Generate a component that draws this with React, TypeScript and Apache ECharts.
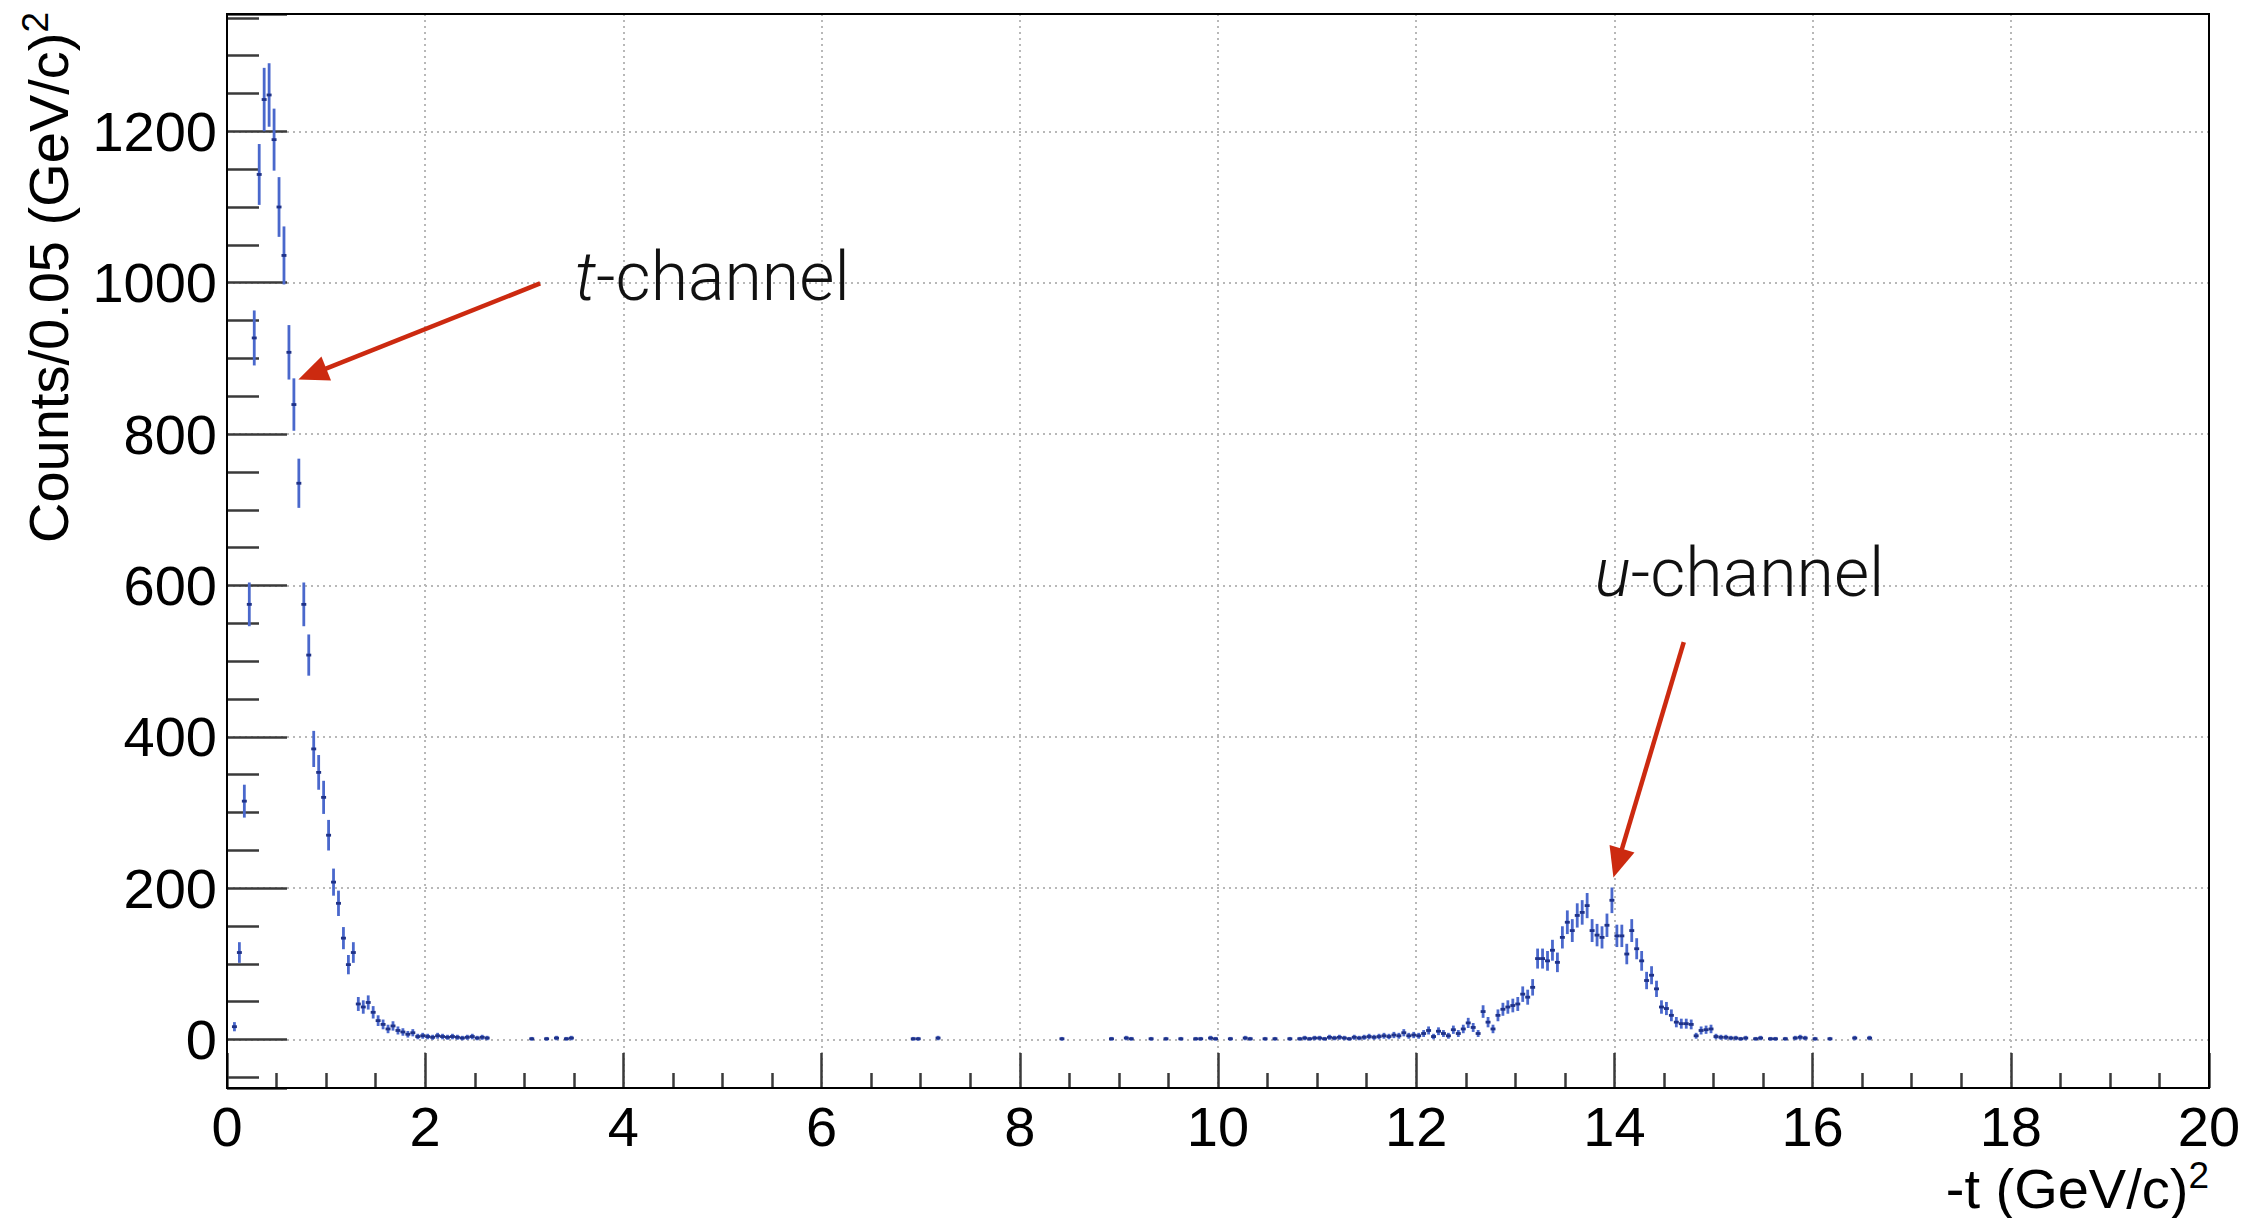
import React, { useEffect, useRef } from 'react';
import * as echarts from 'echarts';

// -t bin centres (bin width 0.05 (GeV/c)^2) and counts, forward (t-channel) peak
const tChannelT = [
  0.075, 0.125, 0.175, 0.225, 0.275, 0.325, 0.375, 0.425, 0.475, 0.525,
  0.575, 0.625, 0.675, 0.725, 0.775, 0.825, 0.875, 0.925, 0.975, 1.025,
  1.075, 1.125, 1.175, 1.225, 1.275, 1.325, 1.375, 1.425, 1.475, 1.525,
  1.575, 1.625, 1.675, 1.725, 1.775, 1.825, 1.875, 1.925, 1.975, 2.025,
  2.075, 2.125, 2.175, 2.225, 2.275, 2.325, 2.375, 2.425, 2.475, 2.525,
  2.575, 2.625,
];
const tChannelCounts = [
  17, 115, 315, 575, 927, 1143, 1242, 1248, 1189, 1100,
  1036, 908, 839, 735, 575, 508, 384, 353, 320, 270,
  208, 180, 134, 99, 115, 47, 43, 49, 36, 25,
  20, 14, 18, 12, 10, 7, 9, 4, 5, 4,
  3, 5, 4, 3, 4, 3, 2, 3, 4, 2,
  3, 2,
];

// sparse bins between the two peaks
const middleT = [
  3.075, 3.225, 3.325, 3.425, 3.475, 6.925, 6.975, 7.175, 8.425, 8.925,
  9.075, 9.125, 9.325, 9.475, 9.625, 9.775, 9.825, 9.925, 9.975, 10.125,
  10.275, 10.325, 10.475, 10.575,
];
const middleCounts = [
  1, 1, 2, 1, 2, 1, 1, 2, 1, 1,
  2, 1, 1, 1, 1, 1, 1, 2, 1, 1,
  2, 1, 1, 1,
];

// backward (u-channel) peak
const uChannelT = [
  10.725, 10.825, 10.875, 10.925, 10.975, 11.025, 11.075, 11.125, 11.175, 11.225,
  11.275, 11.325, 11.375, 11.425, 11.475, 11.525, 11.575, 11.625, 11.675, 11.725,
  11.775, 11.825, 11.875, 11.925, 11.975, 12.025, 12.075, 12.125, 12.175, 12.225,
  12.275, 12.325, 12.375, 12.425, 12.475, 12.525, 12.575, 12.625, 12.675, 12.725,
  12.775, 12.825, 12.875, 12.925, 12.975, 13.025, 13.075, 13.125, 13.175, 13.225,
  13.275, 13.325, 13.375, 13.425, 13.475, 13.525, 13.575, 13.625, 13.675, 13.725,
  13.775, 13.825, 13.875, 13.925, 13.975, 14.025, 14.075, 14.125, 14.175, 14.225,
  14.275, 14.325, 14.375, 14.425, 14.475, 14.525, 14.575, 14.625, 14.675, 14.725,
  14.775, 14.825, 14.875, 14.925, 14.975, 15.025, 15.075, 15.125, 15.175, 15.225,
  15.275, 15.325, 15.425, 15.475, 15.575, 15.625, 15.725, 15.825, 15.875, 15.925,
  16.025, 16.175, 16.425, 16.575,
];
const uChannelCounts = [
  1, 1, 2, 1, 2, 2, 1, 3, 2, 3,
  2, 1, 3, 2, 3, 4, 3, 4, 5, 4,
  6, 5, 9, 5, 6, 5, 8, 12, 4, 11,
  8, 5, 13, 8, 14, 22, 16, 8, 37, 23,
  14, 32, 40, 43, 45, 47, 60, 56, 69, 107,
  107, 104, 118, 102, 135, 155, 144, 164, 168, 177,
  144, 138, 135, 151, 184, 137, 137, 113, 144, 120,
  104, 78, 85, 67, 43, 41, 32, 23, 21, 21,
  20, 5, 12, 13, 14, 4, 3, 3, 2, 2,
  1, 2, 1, 2, 1, 1, 1, 2, 3, 2,
  1, 1, 2, 2,
];

// axis ranges and labels
const X_MIN = 0;
const X_MAX = 20;
const X_STEP = 2;
const Y_MIN = -64;
const Y_MAX = 1355;
const Y_STEP = 200;
const HALF_BIN = 0.025;

const X_TITLE = '-t (GeV/c)';
const Y_TITLE = 'Counts/0.05 (GeV/c)';

// annotation anchors in data coordinates
const tArrow = { from: [3.16, 999], to: [0.72, 872] };
const uArrow = { from: [14.7, 525], to: [13.99, 214] };
const tLabelAt = [3.51, 1007];
const uLabelAt = [13.8, 617];

const AXIS_FONT = "'Liberation Sans', Arial, Helvetica, sans-serif";
const NOTE_FONT = "Roboto, 'Liberation Sans', Arial, sans-serif";
const BAR_BLUE = '#4a68cc';
const MARK_BLUE = '#1f3288';
const RED = '#cc2a10';
const GRID_GREY = '#b8b8b8';
const TICK_GREY = '#3a3a3a';
const LABEL_SIZE = 56;
const TITLE_SIZE = 56;
const NOTE_SIZE = 68;

function points(ts: number[], counts: number[]) {
  return ts.map((t, i) => [t, counts[i], Math.sqrt(counts[i]) * 1.15]);
}

const errorBarSeries = (name: string, data: number[][]) => ({
  type: 'custom',
  name,
  coordinateSystem: 'cartesian2d',
  clip: true,
  encode: { x: 0, y: 1 },
  data,
  renderItem: (_params: any, api: any) => {
    const x = api.value(0);
    const y = api.value(1);
    const e = api.value(2);
    const top = api.coord([x, y + e]);
    const bottom = api.coord([x, y - e]);
    const left = api.coord([x - HALF_BIN, y]);
    const right = api.coord([x + HALF_BIN, y]);
    return {
      type: 'group',
      children: [
        {
          type: 'line',
          shape: { x1: top[0], y1: top[1] - 1, x2: bottom[0], y2: bottom[1] + 1 },
          style: { stroke: BAR_BLUE, lineWidth: 2.8 },
        },
        {
          type: 'line',
          shape: { x1: left[0], y1: left[1], x2: right[0], y2: right[1] },
          style: { stroke: MARK_BLUE, lineWidth: 2.8 },
        },
      ],
    };
  },
});

function buildOption() {
  const splitLine = { show: true, lineStyle: { color: GRID_GREY, width: 2, type: [2, 4] } };
  return {
    animation: false,
    backgroundColor: '#ffffff',
    grid: {
      left: 227,
      top: 14,
      width: 1982,
      height: 1074,
      show: false,
    },
    xAxis: {
      type: 'value',
      min: X_MIN,
      max: X_MAX,
      interval: X_STEP,
      axisLine: { show: true, onZero: false, lineStyle: { color: '#000', width: 2 } },
      axisTick: { show: true, inside: true, length: 35, lineStyle: { color: TICK_GREY, width: 2.5 } },
      minorTick: { show: true, splitNumber: 4, length: 15, lineStyle: { color: TICK_GREY, width: 2.5 } },
      splitLine,
      axisLabel: { fontSize: LABEL_SIZE, color: '#000', margin: 10, fontFamily: AXIS_FONT },
    },
    yAxis: {
      type: 'value',
      min: Y_MIN,
      max: Y_MAX,
      splitNumber: 7,
      axisLine: { show: true, onZero: false, lineStyle: { color: '#000', width: 2 } },
      axisTick: { show: true, inside: true, length: 60, lineStyle: { color: TICK_GREY, width: 2.5 } },
      minorTick: { show: true, splitNumber: 4, length: 32, lineStyle: { color: TICK_GREY, width: 2.5 } },
      splitLine,
      axisLabel: {
        fontSize: LABEL_SIZE,
        color: '#000',
        margin: 10,
        fontFamily: AXIS_FONT,
        formatter: (v: number) => (v % Y_STEP === 0 ? String(v) : ''),
      },
    },
    series: [
      errorBarSeries('t-channel', points(tChannelT, tChannelCounts)),
      errorBarSeries('middle', points(middleT, middleCounts)),
      errorBarSeries('u-channel', points(uChannelT, uChannelCounts)),
    ],
  };
}

function arrow(id: string, from: number[], to: number[], px: (p: number[]) => number[]) {
  const HEAD_LEN = 30;
  const HEAD_HALF = 13;
  const s = px(from);
  const t = px(to);
  const dx = t[0] - s[0];
  const dy = t[1] - s[1];
  const len = Math.hypot(dx, dy);
  const ux = dx / len;
  const uy = dy / len;
  const nx = -uy;
  const ny = ux;
  const bx = t[0] - ux * HEAD_LEN;
  const by = t[1] - uy * HEAD_LEN;
  return [
    {
      type: 'line',
      id: id + '-shaft',
      z: 20,
      shape: { x1: s[0], y1: s[1], x2: bx + ux * 3, y2: by + uy * 3 },
      style: { stroke: RED, lineWidth: 4.5 },
    },
    {
      type: 'polygon',
      id: id + '-head',
      z: 20,
      shape: {
        points: [
          [t[0], t[1]],
          [bx + nx * HEAD_HALF, by + ny * HEAD_HALF],
          [bx - nx * HEAD_HALF, by - ny * HEAD_HALF],
        ],
      },
      style: { fill: RED },
    },
  ];
}

function channelLabel(id: string, letter: string, at: number[], px: (p: number[]) => number[]) {
  const p = px(at);
  return {
    type: 'text',
    id,
    z: 20,
    x: p[0],
    y: p[1],
    style: {
      text: `{i|${letter}}{n|-channel}`,
      align: 'left',
      verticalAlign: 'middle',
      rich: {
        i: { fontStyle: 'italic', fontSize: NOTE_SIZE, fontFamily: NOTE_FONT, fontWeight: 300, fill: '#111' },
        n: { fontSize: NOTE_SIZE, fontFamily: NOTE_FONT, fontWeight: 300, fill: '#111' },
      },
    },
  };
}

function buildGraphics(px: (p: number[]) => number[]) {
  const titleRich = {
    n: { fontSize: TITLE_SIZE, fontFamily: AXIS_FONT, fill: '#000', lineHeight: 62 },
    s: { fontSize: 37, fontFamily: AXIS_FONT, fill: '#000', verticalAlign: 'top' },
  };
  const lowLeft = px([X_MIN, Y_MIN]);
  const upRight = px([X_MAX, Y_MAX]);
  return [
    {
      type: 'rect',
      id: 'frame',
      z: 15,
      silent: true,
      shape: {
        x: lowLeft[0],
        y: upRight[1],
        width: upRight[0] - lowLeft[0],
        height: lowLeft[1] - upRight[1],
      },
      style: { fill: 'none', stroke: '#000', lineWidth: 2 },
    },
    ...arrow('t-arrow', tArrow.from, tArrow.to, px),
    ...arrow('u-arrow', uArrow.from, uArrow.to, px),
    channelLabel('t-label', 't', tLabelAt, px),
    channelLabel('u-label', 'u', uLabelAt, px),
    {
      type: 'text',
      id: 'x-title',
      z: 20,
      x: 2209,
      y: 1188,
      style: {
        text: `{n|${X_TITLE}}{s|2}`,
        align: 'right',
        verticalAlign: 'middle',
        rich: titleRich,
      },
    },
    {
      type: 'text',
      id: 'y-title',
      z: 20,
      x: 48,
      y: 12,
      rotation: Math.PI / 2,
      style: {
        text: `{n|${Y_TITLE}}{s|2}`,
        align: 'right',
        verticalAlign: 'middle',
        rich: titleRich,
      },
    },
  ];
}

export default function App() {
  const ref = useRef<HTMLDivElement>(null);
  useEffect(() => {
    const el = ref.current;
    if (!el) return;
    const chart = echarts.init(el, null, { renderer: 'svg' });
    chart.setOption(buildOption() as any);
    const px = (p: number[]) => chart.convertToPixel({ gridIndex: 0 }, p) as number[];
    chart.setOption({ graphic: buildGraphics(px) } as any);
    return () => chart.dispose();
  }, []);
  return (
    <div
      ref={ref}
      style={{ position: 'fixed', left: 0, top: 0, width: 2253, height: 1218, background: '#fff' }}
    />
  );
}
